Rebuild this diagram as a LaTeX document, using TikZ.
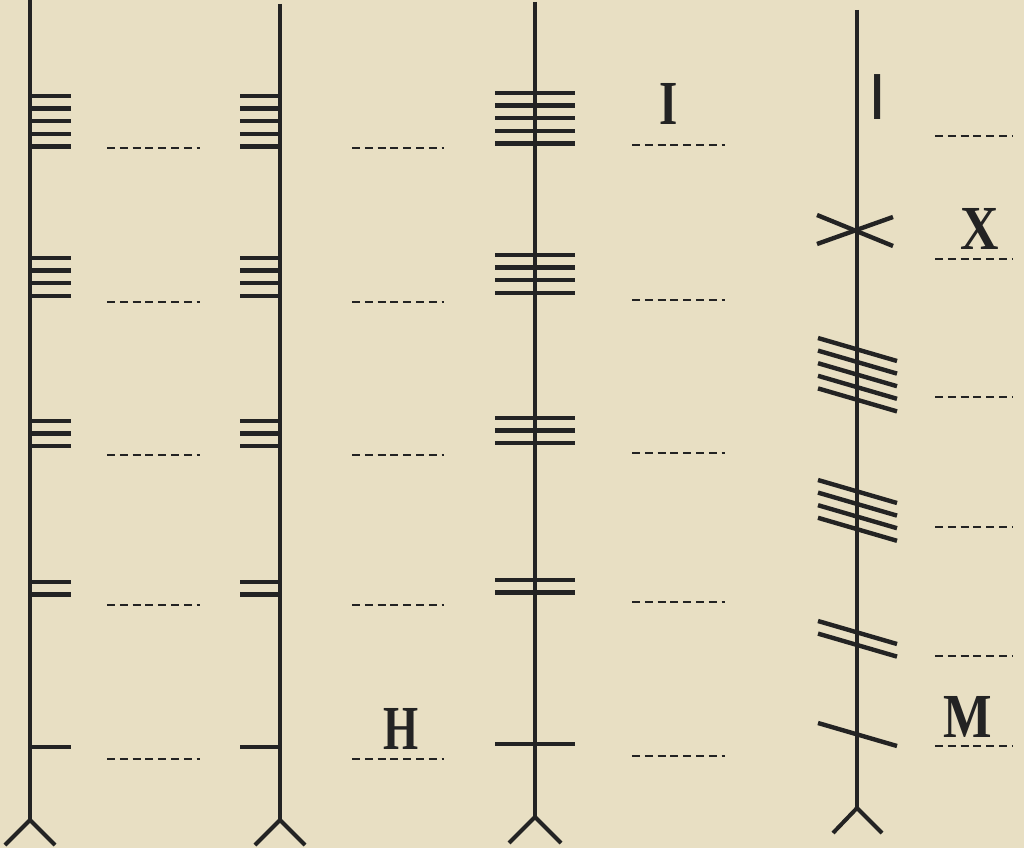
\documentclass[tikz,border=0pt]{standalone}
\usepackage{fontspec}
\usepackage{tikz}
\newfontfamily\barfont{Liberation Sans}
\newfontfamily\letterfont{Liberation Serif}
\definecolor{parchment}{HTML}{E8DFC3}
\definecolor{ink}{HTML}{232323}
\tikzset{
  stemline/.style={line width=3pt, color=ink},
  notch/.style={line width=3.3pt, color=ink},
  guideline/.style={line width=1.4pt, color=ink, dash pattern=on 6pt off 3.6pt},
  glyph/.style={font=\letterfont\bfseries\fontsize{47}{47}\selectfont, text=ink, inner sep=0pt},
}

\begin{document}
\begin{tikzpicture}[x=0.75pt, y=-0.75pt]
  \fill[parchment] (0,0) rectangle (1024,848);
  \useasboundingbox (0,0) rectangle (1024,848);

  % stems with forked feet
  \draw[stemline] (30,0) -- (30,820);
  \draw[stemline] (5,845) -- (30,820) -- (55,845);
  \draw[stemline] (280,4) -- (280,820);
  \draw[stemline] (255,845) -- (280,820) -- (305,845);
  \draw[stemline] (535,2) -- (535,817);
  \draw[stemline] (509,843) -- (535,817) -- (561,843);
  \draw[stemline] (857,10) -- (857,808);
  \draw[stemline] (833,833) -- (857,808) -- (882,833);

  % notches: right of the first stem, left of the second
  \foreach \ytop/\n in {96/5, 258/4, 421/3, 582/2, 747/1} {
    \foreach \k in {1,...,\n} {
      \draw[notch] (30,{\ytop+12.6*(\k-1)}) -- ++(41,0);
      \draw[notch] (280,{\ytop+12.6*(\k-1)}) -- ++(-40,0);
    }
  }
  % notches across the third stem
  \foreach \ytop/\n in {93/5, 255/4, 418/3, 580/2, 744/1} {
    \foreach \k in {1,...,\n}
      \draw[notch] (495,{\ytop+12.6*(\k-1)}) -- ++(80,0);
  }
  % slanted notches on the fourth stem
  \foreach \ytop/\n in {338/5, 480/4, 621/2, 723/1} {
    \foreach \k in {1,...,\n}
      \draw[notch] (818,{\ytop+12.6*(\k-1)}) -- ++(79,23);
  }
  \draw[notch] (817,215) -- (893,246);
  \draw[notch] (817,244) -- (893,217);

  % guide lines
  \foreach \y in {148, 302, 455, 605, 759} {
    \draw[guideline] (107,\y) -- (200,\y);
    \draw[guideline] (352,\y) -- (444,\y);
  }
  \foreach \y in {145, 300, 453, 602, 756}
    \draw[guideline] (632,\y) -- (725,\y);
  \foreach \y in {136, 259, 397, 527, 656, 746}
    \draw[guideline] (935,\y) -- (1013,\y);

  % letters
  \node[glyph] (lH) at (401,729) {\scalebox{0.72}[1]{H}};
  \node[glyph] (lI) at (669,104) {\scalebox{0.75}[1]{I}};
  \node[glyph] (lX) at (980,229) {\scalebox{0.85}[1]{X}};
  \node[glyph] (lM) at (968,717) {\scalebox{0.82}[1]{M}};
  \node[text=ink, inner sep=0pt, font=\barfont\fontsize{49}{49}\selectfont]
    (lbar) at (878,97) {I};
\end{tikzpicture}
\end{document}
